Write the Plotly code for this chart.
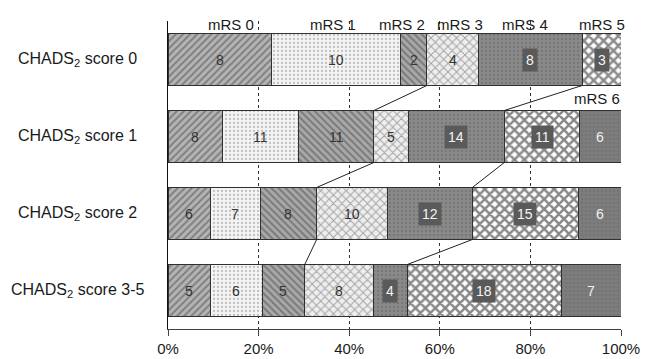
import plotly.graph_objects as go

# ---------------- data ----------------
categories = ["CHADS<sub>2</sub> score 0", "CHADS<sub>2</sub> score 1",
              "CHADS<sub>2</sub> score 2", "CHADS<sub>2</sub> score 3-5"]
mrs_names = ["mRS 0", "mRS 1", "mRS 2", "mRS 3", "mRS 4", "mRS 5", "mRS 6"]
mrs0 = [8, 8, 6, 5]
mrs1 = [10, 11, 7, 6]
mrs2 = [2, 11, 8, 5]
mrs3 = [4, 5, 10, 8]
mrs4 = [8, 14, 12, 4]
mrs5 = [3, 11, 15, 18]
mrs6 = [0, 6, 6, 7]
tick_vals = [0, 20, 40, 60, 80, 100]
tick_text = ["0%", "20%", "40%", "60%", "80%", "100%"]

counts = [mrs0, mrs1, mrs2, mrs3, mrs4, mrs5, mrs6]
totals = [sum(c[i] for c in counts) for i in range(len(categories))]
pct = [[c[i] / totals[i] * 100 for i in range(len(categories))] for c in counts]

# ---------------- styles ----------------
FONT = "Liberation Sans, Arial, sans-serif"
styles = [
    dict(bg="#b4b4b4", fg="#4a4a4a", shape="/", size=5, sol=0.4),
    dict(bg="#f4f4f4", fg="#8c8c8c", shape=".", size=4, sol=0.25),
    dict(bg="#a8a8a8", fg="#4a4a4a", shape="\\", size=5, sol=0.4),
    dict(bg="#eeeeee", fg="#5a5a5a", shape="x", size=6, sol=0.3),
    dict(bg="#8a8a8a", fg="#666666", shape=".", size=4, sol=0.3),
    dict(bg="#ffffff", fg="#141414", shape="x", size=7, sol=0.6),
    dict(bg="#7c7c7c", fg="#686868", shape=".", size=4, sol=0.2),
]
BAR_W = 0.675

fig = go.Figure()
for k, name in enumerate(mrs_names):
    s = styles[k]
    fig.add_trace(go.Bar(
        y=categories, x=pct[k], name=name, orientation="h", width=BAR_W,
        marker=dict(color=s["bg"], line=dict(color="#303030", width=1),
                    pattern=dict(shape=s["shape"], bgcolor=s["bg"], fgcolor=s["fg"],
                                 size=s["size"], solidity=s["sol"])),
        showlegend=False, hoverinfo="skip"))

# connector lines between cumulative mRS 0-2 and mRS 0-4 boundaries
cum2 = [pct[0][i] + pct[1][i] + pct[2][i] for i in range(len(categories))]
cum4 = [cum2[i] + pct[3][i] + pct[4][i] for i in range(len(categories))]
for cum in (cum2, cum4):
    for i in range(len(categories) - 1):
        fig.add_trace(go.Scatter(
            x=[cum[i], cum[i + 1]], y=[i + BAR_W / 2, i + 1 - BAR_W / 2],
            mode="lines", line=dict(color="#222222", width=1),
            showlegend=False, hoverinfo="skip", yaxis="y2"))

annotations = []
# segment value labels
for i in range(len(categories)):
    start = 0
    for k in range(len(mrs_names)):
        v = counts[k][i]
        p = pct[k][i]
        if v > 0:
            if k in (4, 5):
                annotations.append(dict(x=start + p / 2, y=categories[i], text=str(v),
                                        showarrow=False, bgcolor="#5a5a5a", borderpad=3,
                                        font=dict(family=FONT, size=14, color="#f4f4f4")))
            elif k == 6:
                annotations.append(dict(x=start + p / 2, y=categories[i], text=str(v),
                                        showarrow=False,
                                        font=dict(family=FONT, size=14, color="#f0f0f0")))
            else:
                annotations.append(dict(x=start + p / 2, y=categories[i], text=str(v),
                                        showarrow=False,
                                        font=dict(family=FONT, size=14, color="#333333")))
        start += p

# category labels (centered)
for c in categories:
    annotations.append(dict(x=-0.199, xref="paper", y=c, yref="y", text=c,
                            showarrow=False, xanchor="center",
                            font=dict(family=FONT, size=16, color="#1a1a1a")))

# mRS labels above / beside first bar
label_pos = [(14.0, -0.455), (36.4, -0.455), (51.7, -0.455), (64.5, -0.455),
             (78.8, -0.455), (95.8, -0.455), (94.7, 0.506)]
for name, (lx, ly) in zip(mrs_names, label_pos):
    annotations.append(dict(x=lx, y=ly, yref="y2", text=name, showarrow=False,
                            font=dict(family=FONT, size=15, color="#1a1a1a")))

fig.update_layout(
    barmode="stack", bargap=1 - BAR_W,
    width=645, height=359,
    margin=dict(l=168, r=24, t=21, b=30, autoexpand=False),
    paper_bgcolor="white", plot_bgcolor="white",
    font=dict(family=FONT, size=15, color="#1a1a1a"),
    xaxis=dict(range=[0, 100], tickvals=tick_vals, ticktext=tick_text,
               showgrid=True, gridcolor="#333333", griddash="dot", gridwidth=1,
               showline=True, linecolor="#444444", linewidth=1,
               ticks="outside", ticklen=6, tickcolor="#444444",
               zeroline=False, tickfont=dict(size=15), automargin=False),
    yaxis=dict(autorange="reversed", showticklabels=False, showline=True,
               linecolor="#111111", linewidth=1, ticks="", showgrid=False,
               automargin=False),
    yaxis2=dict(overlaying="y", range=[len(categories) - 0.5, -0.5],
                visible=False, showgrid=False),
    annotations=annotations,
)

fig.write_html("out.html", config={"displayModeBar": False},
               post_script="document.body.style.margin='0';document.body.style.overflow='hidden';")
